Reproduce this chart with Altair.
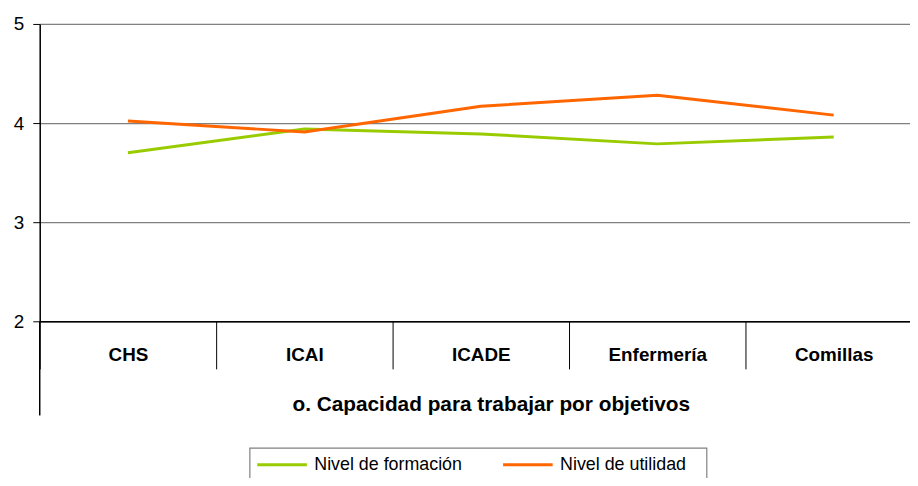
import altair as alt
import pandas as pd

categories = ["CHS", "ICAI", "ICADE", "Enfermería", "Comillas"]
formacion = [3.70, 3.94, 3.89, 3.79, 3.86]
utilidad = [4.02, 3.91, 4.17, 4.28, 4.08]
series_names = ["Nivel de formación", "Nivel de utilidad"]
colors = ["#99CC00", "#FF6600"]
y_ticks = [2, 3, 4, 5]

rows = []
for name, vals in zip(series_names, [formacion, utilidad]):
    for c, v in zip(categories, vals):
        rows.append({"cat": c, "serie": name, "valor": v})
df = pd.DataFrame(rows)

FONT = "Liberation Sans"

lines = alt.Chart(df).mark_line(strokeWidth=3).encode(
    x=alt.X(
        "cat:N",
        sort=categories,
        scale=alt.Scale(range=[0, 890], paddingInner=0, paddingOuter=0),
        axis=alt.Axis(
            title="o. Capacidad para trabajar por objetivos",
            titleFont=FONT, titleFontSize=21, titleFontWeight="bold",
            titlePadding=24, titleX=455, titleColor="#000000",
            labelFont=FONT, labelFontSize=19, labelFontWeight="bold",
            labelColor="#000000", labelAngle=0, labelPadding=-23,
            labelBaseline="top",
            tickBand="extent", tickSize=48, tickColor="#000000", tickWidth=1,
            domainColor="#000000", domainWidth=1.5, grid=False,
        ),
    ),
    y=alt.Y(
        "valor:Q",
        scale=alt.Scale(domain=[2, 5], nice=False, zero=False),
        axis=alt.Axis(
            title=None, values=y_ticks, format="d",
            labelFont=FONT, labelFontSize=19, labelColor="#000000",
            labelPadding=9, tickSize=7, tickColor="#000000",
            domainColor="#000000", domainWidth=1.5,
            grid=True, gridColor="#808080", gridWidth=1.2,
        ),
    ),
    color=alt.Color(
        "serie:N",
        scale=alt.Scale(domain=series_names, range=colors),
        legend=alt.Legend(
            title=None, orient="none", legendX=218, legendY=418,
            direction="horizontal", columns=2,
            symbolType="stroke", symbolSize=2500, symbolStrokeWidth=3,
            labelFont=FONT, labelFontSize=18, labelColor="#000000",
            labelOffset=6, columnPadding=34, padding=0,
        ),
    ),
)

axis_ext = alt.Chart(pd.DataFrame({"k": [0]})).mark_rule(color="#000000", strokeWidth=1.5).encode(
    x=alt.value(0), y=alt.value(300), y2=alt.value(395)
)

legend_box = alt.Chart(pd.DataFrame({"k": [0]})).mark_rect(
    fill="transparent", stroke="#808080", strokeWidth=1.2
).encode(
    x=alt.value(212), x2=alt.value(673), y=alt.value(428), y2=alt.value(495)
)

chart = alt.layer(lines, axis_ext, legend_box).properties(
    width=878, height=300,
    autosize=alt.AutoSizeParams(type="none"),
    padding={"left": 32, "top": 14, "right": 0, "bottom": 156},
).configure_view(stroke=None).configure(background="#ffffff")

chart.save("out.html", embed_options={"renderer": "svg", "actions": False})
